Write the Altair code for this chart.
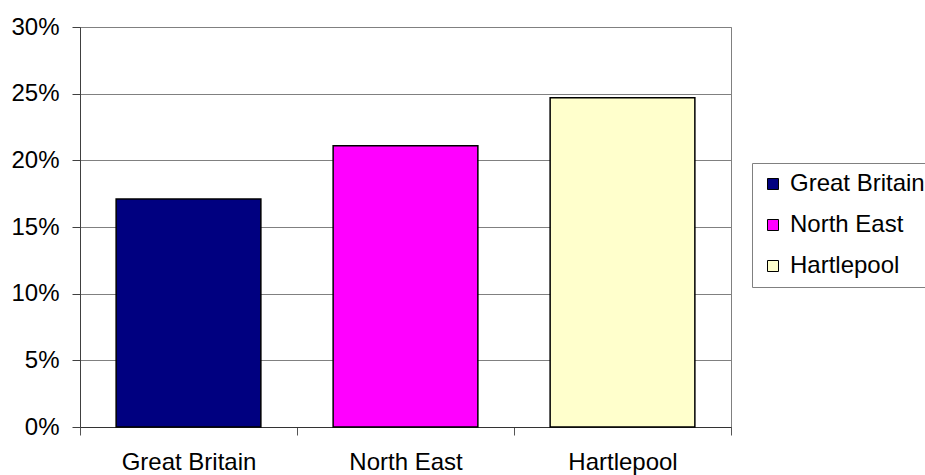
import altair as alt
import pandas as pd

# Share of population by area
areas = ["Great Britain", "North East", "Hartlepool"]
shares = [0.171, 0.211, 0.247]
colours = ["#000080", "#FF00FF", "#FFFFCC"]
y_ticks = [0.0, 0.05, 0.10, 0.15, 0.20, 0.25, 0.30]

df = pd.DataFrame({"area": areas, "share": shares})

FONT = "Liberation Sans"
FONT_SIZE = 24

bars = (
    alt.Chart(df)
    .mark_bar(stroke="black", strokeWidth=1.5, width=alt.RelativeBandSize(0.667))
    .encode(
        x=alt.X(
            "area:N",
            sort=areas,
            title=None,
            scale=alt.Scale(paddingInner=0, paddingOuter=0),
            axis=alt.Axis(
                labelAngle=0,
                tickBand="extent",
                tickSize=8,
                domainColor="#333333",
                tickColor="#555555",
                labelBaseline="alphabetic",
                labelPadding=34,
                labelFont=FONT,
                labelFontSize=FONT_SIZE,
                labelColor="black",
                grid=False,
            ),
        ),
        y=alt.Y(
            "share:Q",
            title=None,
            scale=alt.Scale(domain=[0, 0.3], nice=False),
            axis=alt.Axis(
                values=y_ticks,
                format=".0%",
                tickSize=8,
                domainColor="#404040",
                tickColor="#404040",
                gridColor="#808080",
                gridOpacity=1,
                labelPadding=13,
                labelFont=FONT,
                labelFontSize=FONT_SIZE,
                labelColor="black",
            ),
        ),
        color=alt.Color(
            "area:N",
            sort=areas,
            scale=alt.Scale(domain=areas, range=colours),
            legend=alt.Legend(
                title=None,
                orient="none",
                legendX=672,
                legendY=136,
                strokeColor="#808080",
                fillColor="white",
                padding=9,
                symbolType="square",
                symbolSize=121,
                symbolStrokeColor="black",
                symbolStrokeWidth=1,
                labelFont=FONT,
                labelFontSize=FONT_SIZE,
                labelColor="black",
                labelOffset=5,
                rowPadding=17,
            ),
        ),
    )
)

chart = (
    bars.properties(
        width=651,
        height=400,
        autosize=alt.AutoSizeParams(type="none"),
        padding={"left": 80, "top": 27, "right": 194, "bottom": 48},
        background="white",
    )
    .configure_view(stroke="#808080", strokeWidth=1)
)

chart.save("out.html", embed_options={"renderer": "svg", "actions": False})
